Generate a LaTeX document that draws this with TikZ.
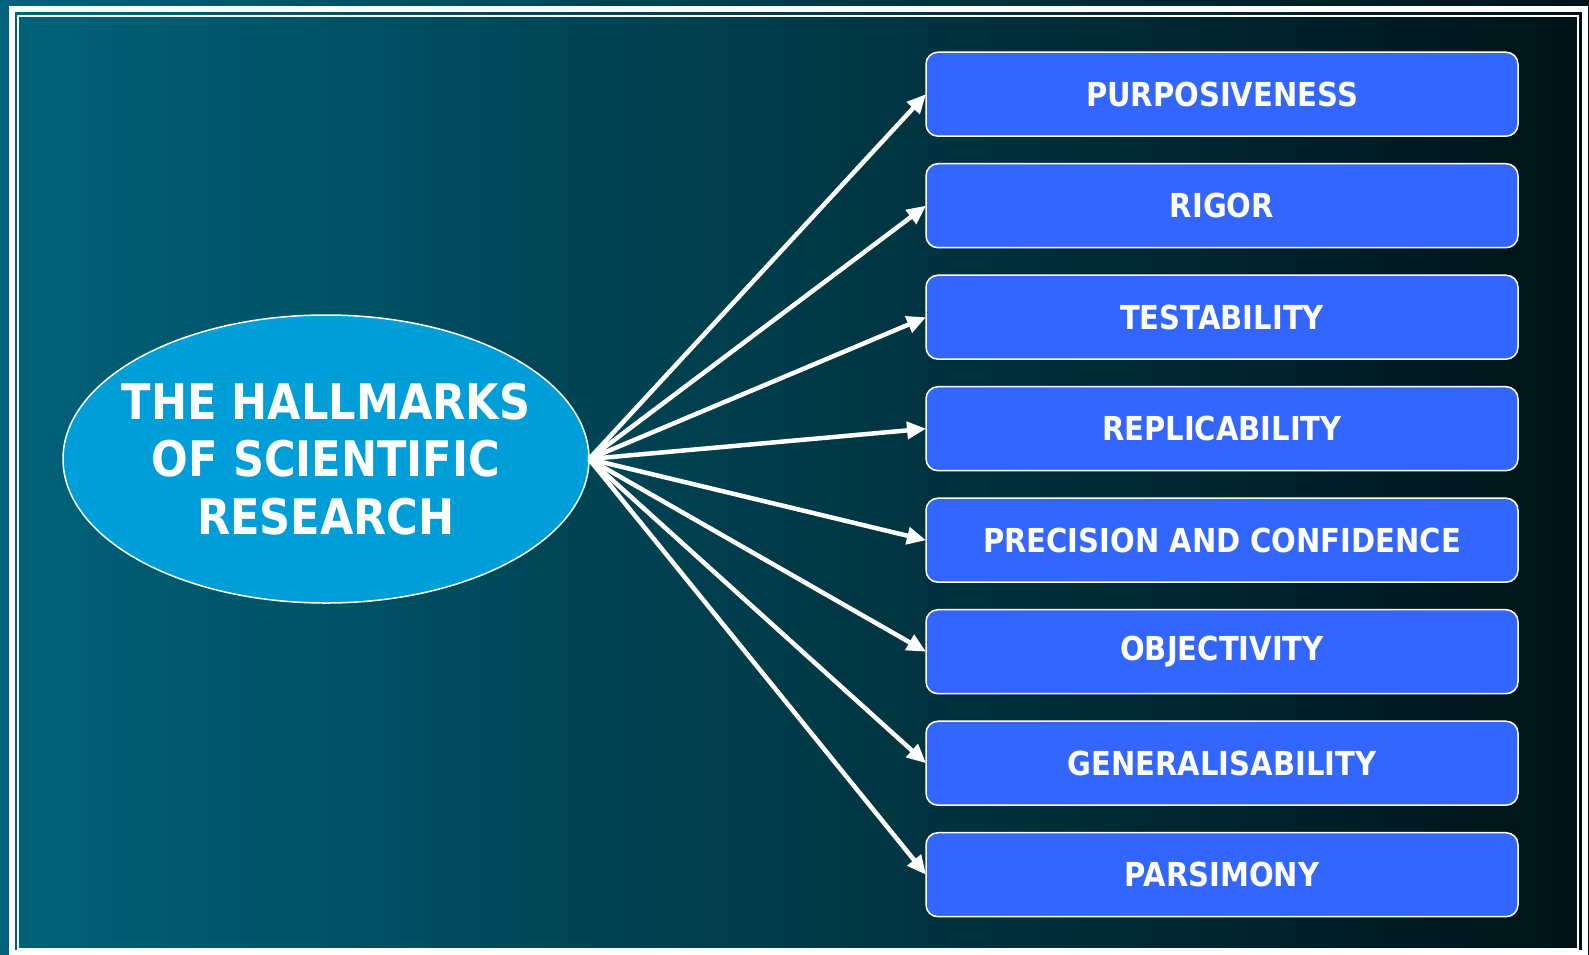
\documentclass[tikz,border=0pt]{standalone}
\usepackage{fontspec}
\setmainfont[FakeStretch=0.88]{DejaVu Sans}
\usepackage{tikz}
\usetikzlibrary{shapes.geometric}
\usetikzlibrary{arrows.meta}
\definecolor{tealleft}{RGB}{0,98,122}
\definecolor{tealmid}{RGB}{0,78,95}
\definecolor{tealright}{RGB}{0,18,22}
\definecolor{hallblue}{RGB}{0,158,216}
\definecolor{boxblue}{RGB}{51,102,255}

\begin{document}
\begin{tikzpicture}[x=1pt,y=-1pt,
	hallbox/.style={draw=white,line width=1.5pt,fill=boxblue,rounded corners=12pt,
		minimum width=592pt,minimum height=84pt,outer sep=0pt,text=white,
		font=\bfseries\fontsize{33}{38}\selectfont},
	hallarrow/.style={white,line width=4.5pt,-{Triangle[length=19pt,width=17pt]}}]
			\useasboundingbox (0,0) rectangle (1589,954);
			% background and frame
			\shade[left color=tealleft,middle color=tealmid,right color=tealright] (0,0) rectangle (1589,954);
			\draw [white,line width=6pt] (11.5,8.5) rectangle (1584.5,952.5);
			\draw [white,line width=2pt] (18,16) rectangle (1577.5,948.5);
			% centre
			\node (core) [ellipse,draw=white,line width=1.5pt,fill=hallblue,outer sep=0pt,
				inner sep=0pt,minimum width=526pt,minimum height=288pt] at (326,459) {};
			\node (title) [text=white,align=center,
				font=\bfseries\fontsize{49}{57.5}\selectfont] at (core.center)
				{THE HALLMARKS\\OF SCIENTIFIC\\RESEARCH};
			% hallmarks
			\foreach \name [count=\i] in {PURPOSIVENESS,RIGOR,TESTABILITY,REPLICABILITY,
				PRECISION AND CONFIDENCE,OBJECTIVITY,GENERALISABILITY,PARSIMONY}
			{
				\node (b\i) [hallbox] at (1222,{94.2+111.5*(\i-1)}) {\name};
				\draw [hallarrow] (core.east) -- (b\i.west);
			}
		\end{tikzpicture}
\end{document}
